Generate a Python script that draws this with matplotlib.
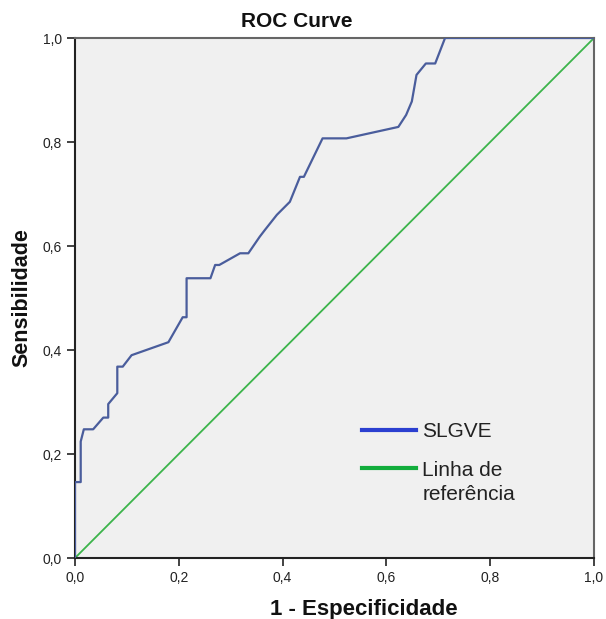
import matplotlib
matplotlib.use("Agg")
import numpy as np
import matplotlib.pyplot as plt
from matplotlib.lines import Line2D
from matplotlib.ticker import FuncFormatter

plt.rcParams['font.family'] = ['Liberation Sans', 'DejaVu Sans']

fpr = [0.0, 0.0, 0.011, 0.011, 0.017, 0.035, 0.0545, 0.064, 0.064, 0.0815, 0.0815, 0.092,
       0.109, 0.180, 0.2075, 0.215, 0.215, 0.261, 0.270, 0.278, 0.318, 0.334, 0.356,
       0.366, 0.389, 0.414, 0.4335, 0.441, 0.477, 0.523, 0.623, 0.638, 0.649, 0.658,
       0.676, 0.694, 0.713, 1.0]
tpr = [0.0, 0.146, 0.146, 0.224, 0.2475, 0.2475, 0.270, 0.270, 0.296, 0.317, 0.368, 0.368,
       0.390, 0.415, 0.463, 0.463, 0.538, 0.538, 0.5635, 0.5635, 0.586, 0.586, 0.618,
       0.631, 0.660, 0.685, 0.733, 0.733, 0.807, 0.807, 0.829, 0.852, 0.878, 0.929,
       0.951, 0.951, 1.0, 1.0]
ref = [0.0, 1.0]

title = "ROC Curve"
xlabel = "1 - Especificidade"
ylabel = "Sensibilidade"
legend_labels = ["SLGVE", "Linha de\nreferência"]
ticks = [0.0, 0.2, 0.4, 0.6, 0.8, 1.0]

W, H = 606, 619
fig = plt.figure(figsize=(W/100, H/100), dpi=100)
ax = fig.add_axes([75/W, 61/H, 519/W, 520/H])
ax.set_facecolor('#f0f0f0')

ax.plot(ref, ref, color='#3cb44b', lw=1.3, zorder=2)
ax.plot(fpr, tpr, color='#4a5d9c', lw=1.6, zorder=3)

ax.set_xlim(0, 1)
ax.set_ylim(0, 1)
ax.set_xticks(ticks)
ax.set_yticks(ticks)
fmt = FuncFormatter(lambda v, p: f"{v:.1f}".replace('.', ','))
ax.xaxis.set_major_formatter(fmt)
ax.yaxis.set_major_formatter(fmt)
ax.tick_params(direction='out', length=6, width=1.2, labelsize=10, colors='#222222')

for s in ['left', 'bottom']:
    ax.spines[s].set_color('#222222')
    ax.spines[s].set_linewidth(1.5)
for s in ['top', 'right']:
    ax.spines[s].set_color('#666666')
    ax.spines[s].set_linewidth(1.5)

fig.text(297/W, 1 - 27/H, title, fontsize=15, fontweight='bold',
         ha='center', va='baseline', color='#111111')
fig.text(364/W, 1 - 615/H, xlabel, fontsize=16, fontweight='bold',
         ha='center', va='baseline', color='#111111')
ax.set_ylabel(ylabel, fontsize=15.5, fontweight='bold', labelpad=7, color='#111111')

handles = [Line2D([0], [0], color='#2b3fd0', lw=3),
           Line2D([0], [0], color='#12ad3c', lw=3)]
leg = ax.legend(handles, legend_labels, loc='upper left',
                bbox_to_anchor=(362/W, 1 - 422/H), bbox_transform=fig.transFigure,
                frameon=False, fontsize=15, handlelength=2.6, handletextpad=0.3,
                labelspacing=0.95, borderpad=0, borderaxespad=0)
for t in leg.get_texts():
    t.set_color('#222222')
    t.set_linespacing(1.35)
# align the second handle with the first text line
h2 = leg.legend_handles[1]
h2.set_ydata(np.asarray(h2.get_ydata()) + 10.8)

fig.savefig("out.png", dpi=100)
